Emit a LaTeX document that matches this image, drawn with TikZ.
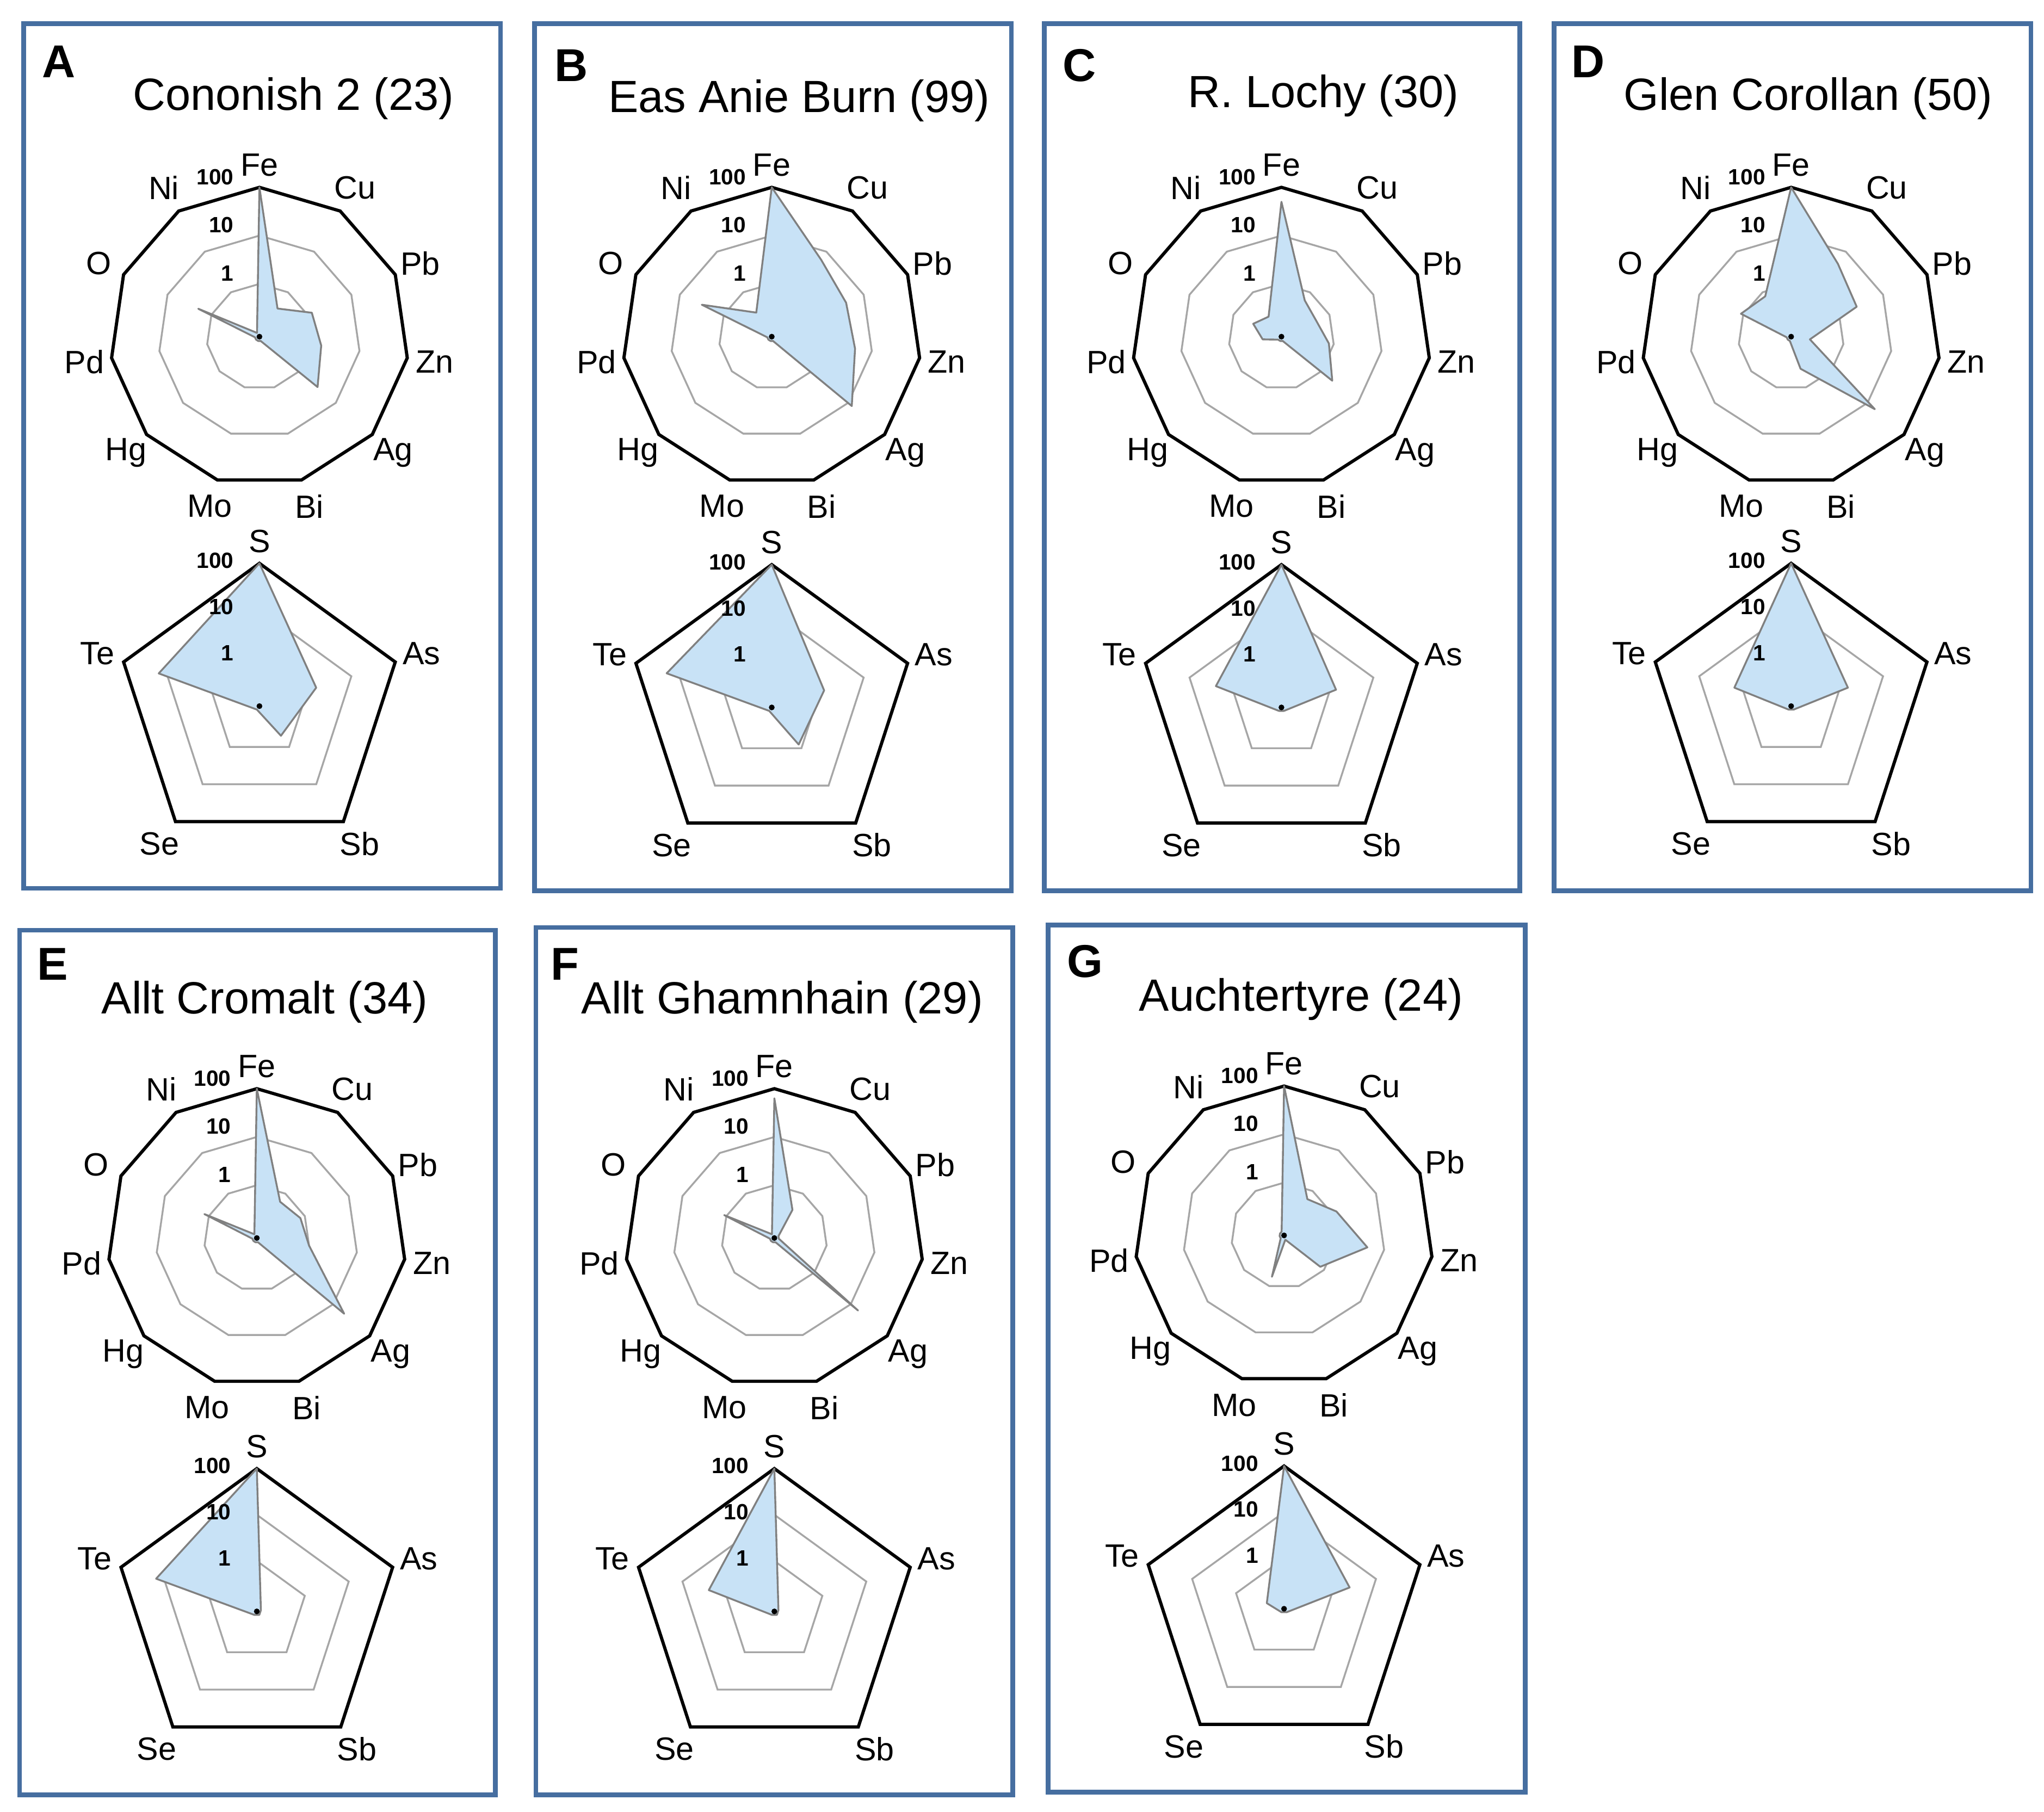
\documentclass[tikz,border=0pt]{standalone}
\usepackage{fontspec}
\setmainfont{Liberation Sans}
\definecolor{boxblue}{RGB}{70,110,160}
\definecolor{fillblue}{RGB}{200,226,246}
\tikzset{
  panel/.style={boxblue, line width=1pt},
  ring/.style={gray!70, line width=0.4pt},
  outer/.style={black, line width=0.7pt, line join=miter},
  data/.style={fill=fillblue, draw=gray, line width=0.4pt, line join=round},
  elem/.style={font=\fontsize{7}{8}\selectfont, inner sep=0pt},
  lvl/.style={font=\fontsize{4.8}{5}\selectfont\bfseries, inner sep=0pt},
  ttl/.style={font=\fontsize{9.8}{12}\selectfont, inner sep=0pt},
  letter/.style={font=\fontsize{10}{12}\selectfont\bfseries, inner sep=0pt}
}
% #1 centre, #2 axes, #3 radius, #4 names, #5 values (0..3), #6 lift of level labels
\newcommand\spider[6]{%
  \pgfmathsetmacro\ang{360/#2}
  \pgfmathtruncatemacro\last{#2-1}
  \begin{scope}[shift={(#1)}]
    \foreach \k in {1,2} {
      \draw[ring] plot[samples at={0,...,\last}] ({90-\x*\ang}:{#3*(0.03+0.97*\k/3)}) -- cycle;
    }
    \draw[outer] plot[samples at={0,...,\last}] ({90-\x*\ang}:#3) -- cycle;
    \draw[data] plot[samples at={0,...,\last}] ({90-\x*\ang}:{#3*(0.03+0.97*{#5}[\x]/3)}) -- cycle;
    \fill (0,0) circle (2.2);
    \foreach \n [count=\i from 0] in {#4} {
      \pgfmathsetmacro\d{ifthenelse(\i==0,#3+17,#3+21)}
      \node[elem] at ({90-\i*\ang}:\d) {\n};
    }
    \node[lvl, anchor=east] at (-19,{#3+#6}) {100};
    \node[lvl, anchor=east] at (-19,{#3*(0.03+0.97*2/3)+#6}) {10};
    \node[lvl, anchor=east] at (-19,{#3*(0.03+0.97/3)+#6}) {1};
  \end{scope}
}
\newcommand\deca[2]{\spider{#1}{11}{114}{Fe,Cu,Pb,Zn,Ag,Bi,Mo,Hg,Pd,O,Ni}{#2}{8}}
\newcommand\penta[2]{\spider{#1}{5}{109}{S,As,Sb,Se,Te}{#2}{2}}
\begin{document}
\begin{tikzpicture}[x=0.01cm, y=0.01cm]
  \useasboundingbox (0,0) rectangle (1560,-1383);

  % A
  \draw[panel] (18,-18) rectangle (382,-678);
  \node[letter] at (45,-47) {A};
  \node[ttl] at (224,-75) {Cononish 2 (23)};
  \deca{198,-257}{3,0.6,1.1,1.2,1.5,0,0,0,0,1.3,0}
  \penta{198,-539}{3,1.2,0.7,0,2.2}

  % B
  \draw[panel] (408,-18) rectangle (772,-680);
  \node[letter] at (436,-50) {B};
  \node[ttl] at (610,-77) {Eas Anie Burn (99)};
  \deca{589,-257}{3,1.8,1.6,1.65,2.1,0,0,0,0,1.5,0.5}
  \penta{589,-540}{3,1.1,0.9,0,2.3}

  % C
  \draw[panel] (797,-18) rectangle (1160,-680);
  \node[letter] at (824,-50) {C};
  \node[ttl] at (1010,-73) {R. Lochy (30)};
  \deca{978,-257}{2.7,0.8,0.7,0.9,1.3,0,0,0,0.3,0.55,0.4}
  \penta{978,-540}{3,1.15,0,0,1.4}

  % D
  \draw[panel] (1186,-18) rectangle (1550,-680);
  \node[letter] at (1212,-47) {D};
  \node[ttl] at (1380,-75) {Glen Corollan (50)};
  \deca{1367,-257}{3,1.7,1.4,0.3,2.2,0.6,0,0,0,1.05,0.9}
  \penta{1367,-539}{3,1.2,0,0,1.2}

  % E
  \draw[panel] (15,-710) rectangle (378,-1370);
  \node[letter] at (40,-736) {E};
  \node[ttl] at (202,-765) {Allt Cromalt (34)};
  \deca{196,-945}{3,0.8,0.9,1.0,2.3,0,0,0,0,1.1,0}
  \penta{196,-1230}{3,0,0,0,2.2}

  % F
  \draw[panel] (409,-708) rectangle (773,-1370);
  \node[letter] at (431,-736) {F};
  \node[ttl] at (597,-765) {Allt Ghamnhain (29)};
  \deca{591,-945}{2.8,0.6,0,0,2.2,0,0,0,0,1.05,0}
  \penta{591,-1230}{3,0,0,0,1.4}

  % G
  \draw[panel] (800,-706) rectangle (1164,-1368);
  \node[letter] at (828,-734) {G};
  \node[ttl] at (993,-763) {Auchtertyre (24)};
  \deca{980,-943}{3,0.8,1.1,1.65,0.9,0,0.8,0,0,0,0}
  \penta{980,-1228}{3,1.4,0,0,0.3}
\end{tikzpicture}
\end{document}
